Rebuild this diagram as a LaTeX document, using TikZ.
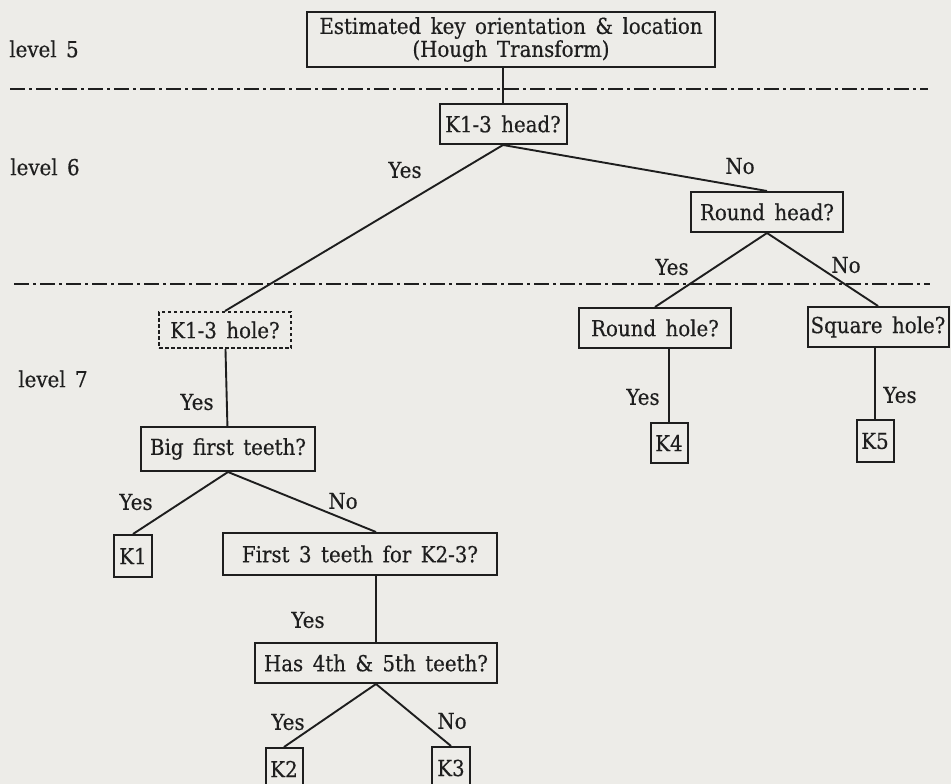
\documentclass[tikz,border=0pt]{standalone}
\usepackage{fontspec}
\setmainfont{DejaVu Serif}[FakeStretch=0.9,WordSpace=1.5,FakeBold=0.4]
\usetikzlibrary{positioning}
\definecolor{paper}{HTML}{EDECE8}
\definecolor{ink}{HTML}{1E1E1E}

\begin{document}
\begin{tikzpicture}[x=1pt,y=-1pt,
 box/.style={draw=ink,line width=2pt,inner sep=2pt,minimum height=40pt,
 font=\fontsize{22}{22}\selectfont,text=ink},
 holebox/.style={box,dash pattern=on 3.5pt off 2.5pt},
 word/.style={font=\fontsize{22}{22}\selectfont,text=ink,inner sep=0pt},
 link/.style={draw=ink,line width=1.9pt},
 levelline/.style={draw=ink,line width=1.6pt,dash pattern=on 15pt off 4pt on 3pt off 4pt}]
\useasboundingbox (0,0) rectangle (951,784);
\fill[paper] (0,0) rectangle (951,784);
% level separators
\draw[levelline] (10,89) -- (928,89);
\draw[levelline] (14,284) -- (930,284);
\node[word] (lvfive) at (44,49) {level 5};
\node[word] (lvsix) at (45,167) {level 6};
\node[word] (lvseven) at (53,379) {level 7};
% decision nodes
\node[box,minimum width=408pt,minimum height=55pt,align=center,inner sep=0pt] (est) at (511,39.5)
 {Estimated key orientation \& location\\[1pt](Hough Transform)};
\node[box,minimum width=127pt] (head) at (503,124) {K1-3 head?};
\node[box,minimum width=152pt] (roundhead) at (767,212) {Round head?};
\node[holebox,minimum width=132pt,minimum height=36pt] (hole13) at (225,330) {K1-3 hole?};
\node[box,minimum width=152pt] (roundhole) at (655,328) {Round hole?};
\node[box,minimum width=141pt] (squarehole) at (878,327) {Square hole?};
\node[box,minimum width=37pt] (kfour) at (669,443) {K4};
\node[box,minimum width=37pt,minimum height=42pt] (kfive) at (875,441) {K5};
\node[box,minimum width=174pt,minimum height=44pt] (bigfirst) at (228,449) {Big first teeth?};
\node[box,minimum width=38pt,minimum height=42pt] (kone) at (133,556) {K1};
\node[box,minimum width=274pt,minimum height=42pt] (first3) at (360,554) {First 3 teeth for K2-3?};
\node[box,minimum width=242pt] (has45) at (376,663) {Has 4th \& 5th teeth?};
\node[box,minimum width=37pt,minimum height=42pt] (ktwo) at (284,769) {K2};
\node[box,minimum width=38pt,minimum height=42pt] (kthree) at (451,768) {K3};
% branches
\draw[link] (head.north) -- (head.north |- est.south);
\draw[link] (head.south) -- (hole13.north);
\draw[link] (head.south) -- (roundhead.north);
\draw[link] (roundhead.south) -- (roundhole.north);
\draw[link] (roundhead.south) -- (squarehole.north);
\draw[link] (kfour.north |- roundhole.south) -- (kfour.north);
\draw[link] (kfive.north |- squarehole.south) -- (kfive.north);
\draw[link] (hole13) -- (bigfirst);
\draw[link] (bigfirst.south) -- (kone.north);
\draw[link] (bigfirst.south) -- (first3.north -| has45.north);
\draw[link] (first3.south -| has45.north) -- (has45.north);
\draw[link] (has45.south) -- (ktwo.north);
\draw[link] (has45.south) -- (kthree.north);
% answers
\node[word] (ya) at (405,170) {Yes};
\node[word] (na) at (740,166) {No};
\node[word] (yb) at (672,267) {Yes};
\node[word] (nb) at (846,265) {No};
\node[word] (yc) at (197,402) {Yes};
\node[word] (yd) at (643,397) {Yes};
\node[word] (ye) at (900,395) {Yes};
\node[word] (yf) at (136,502) {Yes};
\node[word] (nf) at (343,501) {No};
\node[word] (yg) at (308,620) {Yes};
\node[word] (yh) at (288,722) {Yes};
\node[word] (nh) at (452,721) {No};
\end{tikzpicture}
\end{document}
